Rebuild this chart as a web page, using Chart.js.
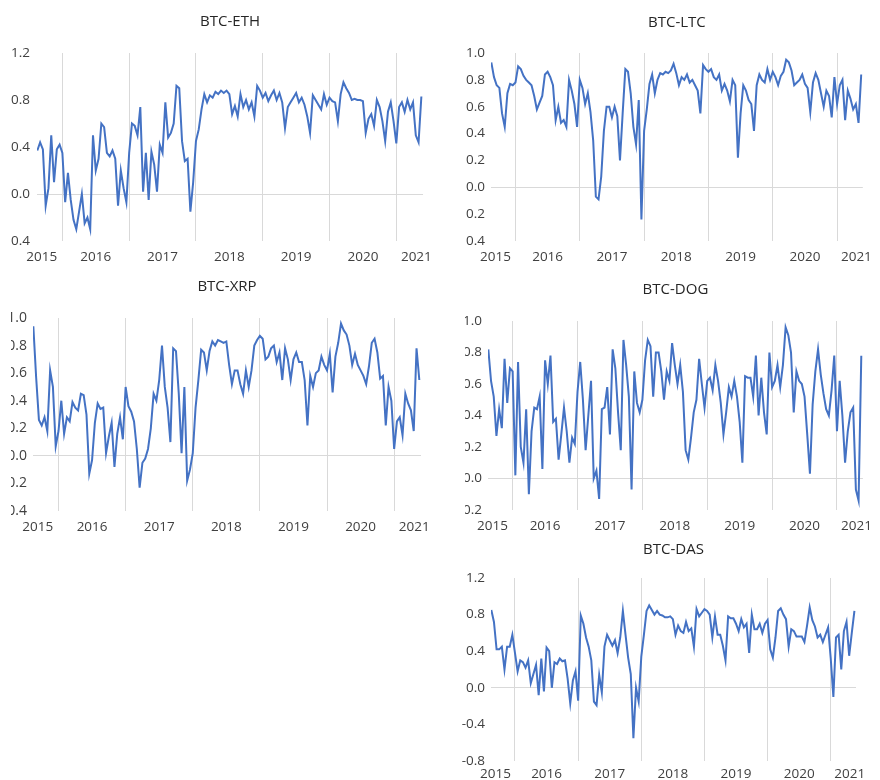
<!DOCTYPE html>
<html>
<head>
<meta charset="utf-8">
<script src="https://cdn.jsdelivr.net/npm/chart.js@4.4.1/dist/chart.umd.min.js"></script>
<style>
  html, body { margin: 0; padding: 0; background: #fff; }
  body { width: 880px; height: 780px; position: relative; overflow: hidden; }
  .panel { position: absolute; overflow: hidden; }
  .panel canvas { position: absolute; top: 0; }
</style>
</head>
<body>
<div class="panel" style="left:0;top:0;width:440px;height:275px"><canvas id="c-eth" width="440" height="275" style="left:0"></canvas></div>
<div class="panel" style="left:440px;top:0;width:440px;height:275px"><canvas id="c-ltc" width="440" height="275" style="left:0"></canvas></div>
<div class="panel" style="left:11px;top:275px;width:429px;height:265px"><canvas id="c-xrp" width="440" height="265" style="left:-11px"></canvas></div>
<div class="panel" style="left:465px;top:275px;width:415px;height:265px"><canvas id="c-dog" width="440" height="265" style="left:-25px"></canvas></div>
<div class="panel" style="left:440px;top:540px;width:440px;height:240px"><canvas id="c-das" width="440" height="240" style="left:0"></canvas></div>
<script>
// sampling: twice a month, starting mid-August 2015
const firstSample = 2015.625;
const samplesPerYear = 24;
const xMin = 2015.62;
const xMax = 2021.40;

const yearLabels = ['2015', '2016', '2017', '2018', '2019', '2020', '2021'];
const yearLines = [2016, 2017, 2018, 2019, 2020, 2021];

const ethValues = [0.37,0.44,0.38,-0.1,0.05,0.5,0.1,0.38,0.42,0.35,
  -0.07,0.18,-0.05,-0.22,-0.3,-0.15,0.0,-0.25,-0.2,-0.3,
  0.5,0.2,0.3,0.6,0.57,0.35,0.32,0.37,0.3,-0.1,
  0.2,0.05,-0.07,0.35,0.6,0.58,0.5,0.74,0.02,0.35,
  -0.05,0.36,0.25,0.02,0.42,0.35,0.78,0.48,0.52,0.6,
  0.92,0.9,0.45,0.28,0.3,-0.15,0.1,0.45,0.55,0.72,
  0.85,0.78,0.84,0.82,0.87,0.85,0.88,0.86,0.88,0.85,
  0.68,0.75,0.66,0.85,0.74,0.8,0.72,0.78,0.66,0.92,
  0.88,0.82,0.86,0.79,0.84,0.88,0.8,0.86,0.78,0.56,
  0.74,0.78,0.82,0.86,0.78,0.82,0.76,0.66,0.52,0.84,
  0.8,0.76,0.72,0.85,0.76,0.82,0.79,0.78,0.62,0.85,
  0.95,0.9,0.86,0.8,0.81,0.8,0.8,0.79,0.52,0.64,
  0.68,0.58,0.8,0.74,0.62,0.45,0.7,0.78,0.62,0.43,
  0.74,0.78,0.7,0.8,0.72,0.78,0.5,0.44,0.83];

const ltcValues = [0.93,0.82,0.76,0.74,0.55,0.45,0.7,0.77,0.76,0.78,
  0.9,0.88,0.83,0.8,0.78,0.76,0.68,0.58,0.63,0.68,
  0.84,0.86,0.82,0.76,0.5,0.6,0.48,0.5,0.45,0.8,
  0.72,0.62,0.45,0.8,0.74,0.62,0.7,0.56,0.35,-0.07,
  -0.09,0.08,0.42,0.6,0.6,0.52,0.6,0.53,0.2,0.55,
  0.88,0.86,0.7,0.45,0.32,0.65,-0.24,0.42,0.58,0.77,
  0.84,0.7,0.8,0.85,0.84,0.86,0.85,0.87,0.92,0.85,
  0.76,0.82,0.8,0.84,0.78,0.8,0.76,0.72,0.55,0.91,
  0.88,0.86,0.88,0.82,0.8,0.84,0.72,0.77,0.72,0.64,
  0.8,0.76,0.22,0.55,0.76,0.72,0.65,0.62,0.42,0.76,
  0.84,0.8,0.78,0.88,0.8,0.86,0.82,0.76,0.83,0.86,
  0.95,0.93,0.87,0.76,0.78,0.8,0.84,0.77,0.74,0.56,
  0.78,0.85,0.8,0.7,0.6,0.72,0.68,0.52,0.82,0.62,
  0.76,0.8,0.5,0.72,0.66,0.58,0.62,0.48,0.84];

const xrpValues = [0.94,0.57,0.26,0.22,0.28,0.18,0.62,0.5,0.07,0.18,
  0.4,0.16,0.28,0.25,0.39,0.35,0.33,0.45,0.44,0.3,
  -0.13,-0.03,0.24,0.38,0.34,0.35,0.02,0.14,0.24,-0.08,
  0.16,0.28,0.12,0.5,0.36,0.32,0.25,0.05,-0.23,-0.05,
  -0.02,0.05,0.2,0.45,0.4,0.55,0.8,0.5,0.35,0.1,
  0.78,0.76,0.45,0.02,0.5,-0.18,-0.1,0.02,0.35,0.55,
  0.77,0.75,0.62,0.76,0.83,0.8,0.84,0.83,0.82,0.83,
  0.66,0.52,0.62,0.62,0.52,0.45,0.62,0.5,0.62,0.8,
  0.84,0.87,0.85,0.7,0.72,0.78,0.8,0.68,0.75,0.55,
  0.78,0.7,0.55,0.7,0.75,0.68,0.68,0.55,0.22,0.58,
  0.5,0.6,0.62,0.72,0.66,0.62,0.74,0.46,0.72,0.82,
  0.96,0.91,0.88,0.8,0.66,0.74,0.66,0.62,0.58,0.52,
  0.65,0.82,0.85,0.75,0.56,0.58,0.22,0.5,0.4,0.05,
  0.25,0.28,0.15,0.45,0.38,0.33,0.18,0.78,0.55];

const dogValues = [0.82,0.62,0.52,0.27,0.44,0.32,0.76,0.48,0.7,0.68,
  0.02,0.74,0.2,0.1,0.44,-0.1,0.3,0.45,0.44,0.52,
  0.06,0.75,0.6,0.78,0.36,0.38,0.12,0.28,0.45,0.3,
  0.1,0.26,0.22,0.55,0.74,0.5,0.18,0.4,0.62,0.0,
  0.05,-0.13,0.44,0.45,0.58,0.28,0.82,0.7,0.42,0.18,
  0.88,0.72,0.52,-0.07,0.68,0.48,0.42,0.5,0.75,0.88,
  0.84,0.52,0.8,0.8,0.68,0.5,0.68,0.62,0.86,0.72,
  0.6,0.72,0.55,0.18,0.12,0.26,0.42,0.5,0.76,0.6,
  0.45,0.62,0.64,0.56,0.72,0.62,0.48,0.28,0.42,0.58,
  0.52,0.62,0.52,0.36,0.1,0.65,0.64,0.64,0.52,0.78,
  0.4,0.64,0.42,0.28,0.8,0.58,0.62,0.72,0.58,0.72,
  0.96,0.91,0.8,0.42,0.68,0.62,0.6,0.52,0.28,0.03,
  0.47,0.68,0.82,0.66,0.54,0.44,0.4,0.56,0.78,0.3,
  0.62,0.4,0.1,0.3,0.42,0.45,-0.07,-0.14,0.78];

const dasValues = [0.85,0.72,0.42,0.42,0.45,0.2,0.45,0.45,0.58,0.38,
  0.18,0.3,0.28,0.22,0.3,0.05,0.15,0.25,-0.08,0.32,
  -0.04,0.44,0.4,0.0,0.28,0.26,0.32,0.29,0.3,0.1,
  -0.17,0.08,0.18,-0.14,0.79,0.7,0.55,0.45,0.3,-0.15,
  -0.19,0.14,-0.05,0.45,0.58,0.52,0.46,0.52,0.38,0.55,
  0.84,0.58,0.33,0.15,-0.55,0.0,-0.15,0.34,0.58,0.84,
  0.9,0.85,0.8,0.84,0.8,0.79,0.77,0.77,0.78,0.75,
  0.58,0.68,0.62,0.6,0.72,0.62,0.65,0.45,0.86,0.78,
  0.82,0.86,0.84,0.8,0.55,0.78,0.58,0.58,0.46,0.3,
  0.78,0.76,0.76,0.7,0.62,0.75,0.66,0.7,0.38,0.8,
  0.64,0.64,0.7,0.6,0.7,0.74,0.42,0.33,0.55,0.84,
  0.87,0.8,0.75,0.45,0.64,0.62,0.56,0.56,0.56,0.5,
  0.68,0.88,0.74,0.67,0.55,0.58,0.5,0.58,0.66,0.32,
  -0.1,0.55,0.58,0.2,0.62,0.72,0.35,0.6,0.84];

// y tick texts as printed, bottom to top (minus signs are cut off in the source)
const ethTicks = ['0.4', '0.0', '0.4', '0.8', '1.2'];
const ltcTicks = ['0.4', '0.2', '0.0', '0.2', '0.4', '0.6', '0.8', '1.0'];
const xrpTicks = ['0.4', '0.2', '0.0', '0.2', '0.4', '0.6', '0.8', '1.0'];
const dogTicks = ['0.2', '0.0', '0.2', '0.4', '0.6', '0.8', '1.0'];
const dasTicks = ['-0.8', '-0.4', '0.0', '0.4', '0.8', '1.2'];

const LINE_COLOR = '#4472C4';
const GRID_COLOR = '#d9d9d9';
const TEXT_COLOR = '#404040';
const FONT = "'Open Sans', 'Liberation Sans', sans-serif";

// title drawn centred over the plot area
const panelTitle = {
  id: 'panelTitle',
  afterDraw(chart, args, opts) {
    const { ctx, chartArea } = chart;
    ctx.save();
    ctx.font = '15px ' + FONT;
    ctx.fillStyle = '#262626';
    ctx.textAlign = 'center';
    ctx.textBaseline = 'middle';
    ctx.fillText(opts.text, (chartArea.left + chartArea.right) / 2, opts.y);
    ctx.restore();
  }
};

function yearLabelPos(i) {
  const y = 2015 + i;
  return Math.min(Math.max(y + 0.5, xMin + 0.07), xMax - 0.1);
}

function renderPanel(cfg) {
  const canvas = document.getElementById(cfg.id);
  const W = canvas.width, H = canvas.height;
  const points = cfg.values.map((v, i) => ({ x: firstSample + i / samplesPerYear, y: v }));
  const labelTicks = yearLabels.map((t, i) => yearLabelPos(i));

  return new Chart(canvas, {
    type: 'line',
    data: {
      datasets: [{
        data: points,
        borderColor: LINE_COLOR,
        borderWidth: 2,
        pointRadius: 0,
        tension: 0,
        fill: false
      }]
    },
    options: {
      responsive: false,
      animation: false,
      events: [],
      layout: {
        padding: { left: 0, right: W - cfg.right, top: cfg.top, bottom: 0 }
      },
      plugins: {
        legend: { display: false },
        tooltip: { enabled: false },
        panelTitle: { text: cfg.title, y: cfg.titleY }
      },
      scales: {
        x: {
          type: 'linear',
          min: xMin,
          max: xMax,
          afterFit: (axis) => { axis.height = H - cfg.bottom; },
          afterBuildTicks: (axis) => {
            axis.ticks = yearLines.map(v => ({ value: v }))
              .concat(labelTicks.map(v => ({ value: v })))
              .sort((a, b) => a.value - b.value);
          },
          border: { display: false },
          grid: {
            drawTicks: false,
            color: (ctx) => (ctx.tick && Number.isInteger(ctx.tick.value)) ? GRID_COLOR : 'rgba(0,0,0,0)',
            lineWidth: 1
          },
          ticks: {
            autoSkip: false,
            maxRotation: 0,
            padding: cfg.xPad,
            color: TEXT_COLOR,
            font: { family: FONT, size: 13.5 },
            callback: (value) => {
              if (Number.isInteger(value)) return '';
              const i = labelTicks.indexOf(value);
              return i >= 0 ? yearLabels[i] : '';
            }
          }
        },
        y: {
          min: cfg.yMin,
          max: cfg.yMax,
          afterFit: (axis) => { axis.width = cfg.left; },
          border: { display: false },
          grid: {
            drawTicks: false,
            color: (ctx) => (ctx.tick && Math.abs(ctx.tick.value) < 1e-9) ? GRID_COLOR : 'rgba(0,0,0,0)',
            lineWidth: 1
          },
          ticks: {
            stepSize: cfg.step,
            padding: cfg.yPad,
            color: TEXT_COLOR,
            font: { family: FONT, size: cfg.fontSize || 13.5 },
            callback: (value, index) => cfg.ticks[index]
          }
        }
      }
    },
    plugins: [panelTitle]
  });
}

const PANELS = [
  { id: 'c-eth', title: 'BTC-ETH', values: ethValues, ticks: ethTicks, yMin: -0.4, yMax: 1.2, step: 0.4,
    left: 37, right: 428, top: 53, bottom: 241, titleY: 22, xPad: 8, yPad: 7 },
  { id: 'c-ltc', title: 'BTC-LTC', values: ltcValues, ticks: ltcTicks, yMin: -0.4, yMax: 1.0, step: 0.2,
    left: 51, right: 430, top: 53, bottom: 241, titleY: 23, xPad: 8, yPad: 6 },
  { id: 'c-xrp', title: 'BTC-XRP', values: xrpValues, ticks: xrpTicks, yMin: -0.4, yMax: 1.0, step: 0.2,
    left: 33, right: 421, top: 43, bottom: 236, titleY: 12, xPad: 8, yPad: 6, fontSize: 14 },
  { id: 'c-dog', title: 'BTC-DOG', values: dogValues, ticks: dogTicks, yMin: -0.2, yMax: 1.0, step: 0.2,
    left: 48, right: 432, top: 46, bottom: 235, titleY: 15, xPad: 8, yPad: 6 },
  { id: 'c-das', title: 'BTC-DAS', values: dasValues, ticks: dasTicks, yMin: -0.8, yMax: 1.2, step: 0.4,
    left: 51, right: 416, top: 38, bottom: 221, titleY: 10, xPad: 5, yPad: 6 }
];

PANELS.forEach(renderPanel);
</script>
</body>
</html>
